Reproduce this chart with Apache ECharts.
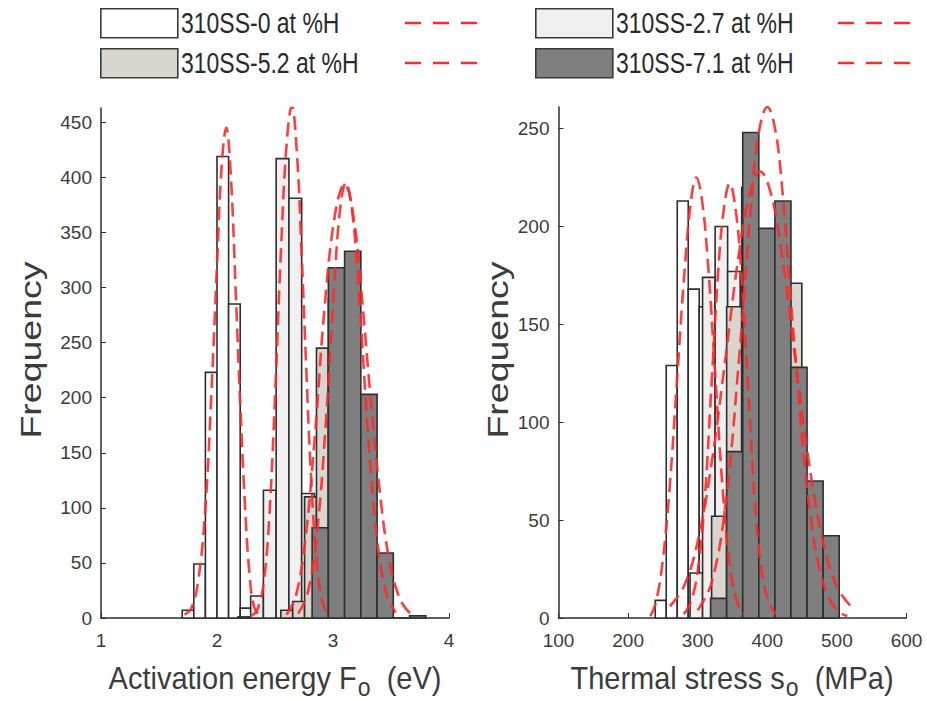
<!DOCTYPE html>
<html>
<head>
<meta charset="utf-8">
<script src="https://cdn.jsdelivr.net/npm/echarts@6/dist/echarts.min.js"></script>
<style>
  html, body { margin: 0; padding: 0; background: #fff; }
  #chart { width: 927px; height: 701px; }
</style>
</head>
<body>
<div id="chart"></div>
<script>
// ---- left panel: activation energy (eV), bin edges + counts per hydrogen level
var feEdges0 = [1.70, 1.80, 1.90, 2.00, 2.10, 2.20, 2.30];
var feCount0 = [7, 49, 223, 419, 285, 9];
var feEdges27 = [2.18, 2.29, 2.40, 2.51, 2.62, 2.73, 2.84, 2.95];
var feCount27 = [1, 20, 116, 417, 381, 113, 8];
var feEdges52 = [2.55, 2.6525, 2.755, 2.8575, 2.96, 3.06, 3.16, 3.26, 3.36];
var feCount52 = [7, 15, 110, 245, 290, 300, 195, 150, 45];
var feEdges71 = [2.82, 2.96, 3.10, 3.24, 3.38, 3.52, 3.66, 3.80];
var feCount71 = [82, 318, 333, 203, 59, 0, 2];

// fitted normal curves
var feFit0 = [[1.72, 3], [1.78, 9], [1.84, 35], [1.90, 100], [1.95, 200], [2.00, 320], [2.04, 410], [2.08, 445], [2.12, 400], [2.16, 300], [2.20, 195], [2.24, 105], [2.28, 40], [2.32, 10], [2.37, 2]];
var feFit27 = [[2.30, 2], [2.35, 8], [2.40, 30], [2.45, 90], [2.50, 200], [2.55, 330], [2.60, 430], [2.645, 465], [2.69, 420], [2.73, 330], [2.77, 225], [2.81, 130], [2.86, 50], [2.91, 14], [2.96, 3]];
var feFit52 = [[2.60, 3], [2.68, 20], [2.76, 70], [2.84, 160], [2.93, 285], [3.02, 368], [3.10, 394], [3.18, 362], [3.25, 290], [3.32, 205], [3.40, 118], [3.48, 55], [3.56, 22], [3.64, 7], [3.72, 2]];
var feFit71 = [[2.70, 4], [2.78, 22], [2.86, 75], [2.94, 180], [3.01, 300], [3.06, 370], [3.11, 395], [3.17, 365], [3.23, 285], [3.30, 170], [3.38, 72], [3.46, 22], [3.54, 5]];

// ---- right panel: thermal stress (MPa)
var soEdges0 = [239, 254.8, 270.6, 286.4, 302.2, 318, 333.8];
var soCount0 = [9, 129, 213, 168, 159, 40];
var soEdges27 = [289, 307, 325, 343, 361, 379, 397];
var soCount27 = [23, 174, 200, 177, 60, 12];
var soEdges52 = [320, 341.6, 363.2, 384.8, 406.4, 428, 449.6, 471.2, 492.8];
var soCount52 = [52, 159, 220, 190, 195, 171, 65, 30];
var soEdges71 = [318.5, 341.6, 364.7, 387.8, 410.9, 434, 457.1, 480.2, 503.3];
var soCount71 = [10, 85, 248, 199, 213, 128, 70, 42];

var soFit0 = [[232, 1], [240, 8], [250, 30], [260, 68], [270, 120], [280, 172], [290, 212], [298, 225], [306, 214], [315, 180], [325, 125], [335, 70], [345, 30], [355, 10], [365, 2]];
var soFit27 = [[280, 2], [290, 8], [300, 24], [310, 60], [320, 120], [330, 180], [338, 210], [346, 222], [354, 210], [362, 180], [372, 120], [382, 60], [392, 24], [402, 8], [412, 2]];
var soFit52 = [[260, 6], [280, 16], [300, 39], [320, 79], [340, 133], [360, 188], [375, 217], [390, 228], [405, 217], [420, 188], [440, 133], [460, 79], [480, 39], [500, 16], [520, 6]];
var soFit71 = [[300, 4], [320, 18], [340, 58], [360, 135], [380, 225], [390, 252], [400, 261], [410, 252], [420, 225], [440, 135], [460, 58], [480, 18], [500, 4], [515, 1]];

var feTicksX = [1, 2, 3, 4];
var feTicksY = [0, 50, 100, 150, 200, 250, 300, 350, 400, 450];
var soTicksX = [100, 200, 300, 400, 500, 600];
var soTicksY = [0, 50, 100, 150, 200, 250];

var seriesNames = ['310SS-0 at %H', '310SS-2.7 at %H', '310SS-5.2 at %H', '310SS-7.1 at %H'];
var fills = ['#ffffff', '#f0f0f0', '#d9d6d0', '#7f7f7f'];

var font = "'Liberation Sans', Arial, sans-serif";
var ink = '#3c3c3c', edge = '#2e2e2e', red = '#ff2a2a';

function bins(edges, counts) {
  return counts.map(function(c, i) { return [edges[i], edges[i + 1], c]; });
}

function renderBin(params, api) {
  var p0 = api.coord([api.value(0), 0]);
  var p1 = api.coord([api.value(1), api.value(2)]);
  return {
    type: 'rect',
    shape: { x: p0[0], y: p1[1], width: p1[0] - p0[0], height: p0[1] - p1[1] },
    style: { fill: fills[params.seriesIndex % 4], stroke: edge, lineWidth: 1.6 }
  };
}

function histSeries(gi, edges, counts, k) {
  return {
    type: 'custom', name: seriesNames[k], xAxisIndex: gi, yAxisIndex: gi,
    renderItem: renderBin, data: bins(edges, counts),
    encode: { x: [0, 1], y: 2 }, z: 2 + k, silent: true
  };
}

function fitSeries(gi, pts) {
  return {
    type: 'line', xAxisIndex: gi, yAxisIndex: gi, data: pts, smooth: 0.4,
    showSymbol: false, z: 10, silent: true,
    lineStyle: { color: red, width: 2.6, type: [14, 7], opacity: 0.9 }
  };
}

function xAxis(gi, min, max, ticks) {
  return {
    gridIndex: gi, type: 'value', min: min, max: max,
    axisLine: { onZero: false, lineStyle: { color: edge, width: 1.5 } },
    axisTick: { inside: true, length: 5, customValues: ticks, lineStyle: { color: edge } },
    axisLabel: { customValues: ticks, color: ink, fontSize: 19, fontFamily: font, margin: 13 },
    splitLine: { show: false }
  };
}

function yAxis(gi, max, ticks) {
  return {
    gridIndex: gi, type: 'value', min: 0, max: max,
    axisLine: { show: true, lineStyle: { color: edge, width: 1.5 } },
    axisTick: { show: true, inside: true, length: 5, customValues: ticks, lineStyle: { color: edge } },
    axisLabel: { customValues: ticks, color: ink, fontSize: 19, fontFamily: font, margin: 9 },
    splitLine: { show: false }
  };
}

// legend: swatch box + label + dashed fit sample, two columns x two rows
var legendPos = [[100, 8, 405], [535, 8, 838], [100, 48, 405], [535, 48, 838]];
var legendItems = [];
legendPos.forEach(function(pos, k) {
  legendItems.push({
    type: 'rect', left: pos[0], top: pos[1],
    shape: { width: 77, height: 29 },
    style: { fill: fills[k], stroke: '#3a3a3a', lineWidth: 1.6 }
  });
  legendItems.push({
    type: 'text', x: pos[0] + 81, y: pos[1] + 15, scaleY: 1.3,
    style: { text: seriesNames[k], font: '23px ' + font, fill: '#2a2a2a', align: 'left', verticalAlign: 'middle' }
  });
  legendItems.push({
    type: 'line', shape: { x1: pos[2], y1: pos[1] + 15, x2: pos[2] + 74, y2: pos[1] + 15 },
    style: { stroke: red, lineWidth: 2.5, lineDash: [16, 12] }
  });
});

var titleRich = {
  a: { fontSize: 29, fontFamily: font, fill: ink },
  b: { fontSize: 23, fontFamily: font, fill: ink, padding: [18, 0, 0, 1] }
};

var titles = [
  { type: 'text', x: 275, y: 677, scaleY: 1.1,
    style: { text: '{a|Activation energy F}{b|o}{a|  (eV)}', rich: titleRich, align: 'center', verticalAlign: 'middle' } },
  { type: 'text', x: 732, y: 677, scaleY: 1.1,
    style: { text: '{a|Thermal stress s}{b|o}{a|  (MPa)}', rich: titleRich, align: 'center', verticalAlign: 'middle' } },
  { type: 'text', x: 30, y: 350, rotation: Math.PI / 2, scaleX: 1.25,
    style: { text: 'Frequency', font: '30px ' + font, fill: ink, align: 'center', verticalAlign: 'middle' } },
  { type: 'text', x: 497, y: 350, rotation: Math.PI / 2, scaleX: 1.25,
    style: { text: 'Frequency', font: '30px ' + font, fill: ink, align: 'center', verticalAlign: 'middle' } }
];

var chart = echarts.init(document.getElementById('chart'), null, { renderer: 'svg' });
chart.setOption({
  animation: false,
  backgroundColor: '#fff',
  grid: [
    { left: 101, top: 108, width: 348, height: 510 },
    { left: 558.5, top: 107, width: 348, height: 511 }
  ],
  xAxis: [xAxis(0, 1, 4, feTicksX), xAxis(1, 100, 600, soTicksX)],
  yAxis: [yAxis(0, 463, feTicksY), yAxis(1, 261, soTicksY)],
  series: [
    histSeries(0, feEdges0, feCount0, 0),
    histSeries(0, feEdges27, feCount27, 1),
    histSeries(0, feEdges52, feCount52, 2),
    histSeries(0, feEdges71, feCount71, 3),
    fitSeries(0, feFit0), fitSeries(0, feFit27), fitSeries(0, feFit52), fitSeries(0, feFit71),
    histSeries(1, soEdges0, soCount0, 0),
    histSeries(1, soEdges27, soCount27, 1),
    histSeries(1, soEdges52, soCount52, 2),
    histSeries(1, soEdges71, soCount71, 3),
    fitSeries(1, soFit0), fitSeries(1, soFit27), fitSeries(1, soFit52), fitSeries(1, soFit71)
  ],
  graphic: legendItems.concat(titles)
});
</script>
</body>
</html>
